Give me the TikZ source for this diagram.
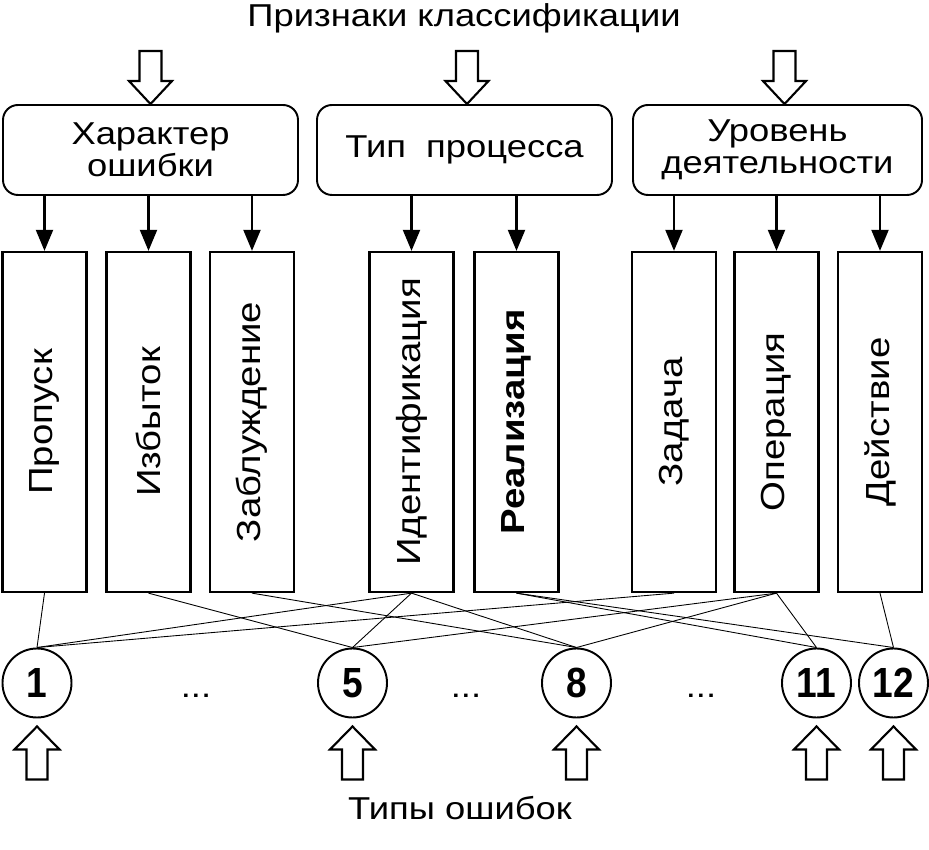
\documentclass[tikz,border=0pt]{standalone}
\usepackage{fontspec}
\setmainfont{Liberation Sans}[FakeStretch=1.15]
\newfontfamily\numfont{Liberation Sans}[FakeStretch=0.88]
\usetikzlibrary{arrows.meta}

\begin{document}
\begin{tikzpicture}[
        priznak/.style={draw, line width=1.1pt, rounded corners=0.3cm, minimum height=1.8cm, align=center, font=\fontsize{18}{18}\selectfont},
        vidbox/.style={draw, line width=1.3pt, minimum width=1.68cm, minimum height=6.8cm},
        vidtext/.style={rotate=90, font=\fontsize{19}{20}\selectfont},
        tipcirc/.style={draw, circle, line width=1.1pt, minimum size=1.38cm, inner sep=0pt, font=\numfont\bfseries\fontsize{24}{26}\selectfont},
        hollow/.style={draw, line width=1.2pt, fill=white, line join=miter},
        svyaz/.style={line width=0.5pt},
        strelka/.style={line width=1.2pt, -{Triangle[width=0.34cm,length=0.42cm]}}
    ]

            \useasboundingbox (0,0) rectangle (18.58,17);

            \node[anchor=base, font=\fontsize{18}{20}\selectfont] (title) at (9.28,16.46) {Признаки классификации};
            \node[anchor=base, font=\fontsize{18}{20}\selectfont] (tipy) at (9.2,0.6) {Типы ошибок};

            % признаки
            \node[priznak, minimum width=5.9cm] (hk) at (3.01,14) {Характер\\ошибки};
            \node[priznak, minimum width=5.9cm] (tp) at (9.29,14) {Тип~~процесса};
            \node[priznak, minimum width=5.78cm] (ud) at (15.55,14) {Уровень\\деятельности};

            \draw[hollow] (hk.north) -- ++(-0.43,0.46) -- ++(0.21,0) -- ++(0,0.6) -- ++(0.44,0) -- ++(0,-0.6) -- ++(0.21,0) -- cycle;
            \draw[hollow] ([xshift=0.05cm]tp.north) -- ++(-0.43,0.46) -- ++(0.21,0) -- ++(0,0.6) -- ++(0.44,0) -- ++(0,-0.6) -- ++(0.21,0) -- cycle;
            \draw[hollow] ([xshift=0.14cm]ud.north) -- ++(-0.43,0.46) -- ++(0.21,0) -- ++(0,0.6) -- ++(0.44,0) -- ++(0,-0.6) -- ++(0.21,0) -- cycle;

            % виды ошибок
            \node[vidbox] (prop) at (0.89,8.56) {};
            \node[vidbox] (izb) at (2.97,8.56) {};
            \node[vidbox] (zabl) at (5.04,8.56) {};
            \node[vidbox] (ident) at (8.23,8.56) {};
            \node[vidbox] (real) at (10.33,8.56) {};
            \node[vidbox] (zad) at (13.48,8.56) {};
            \node[vidbox] (oper) at (15.53,8.56) {};
            \node[vidbox] (deistv) at (17.6,8.56) {};

            \node[vidtext] (propt) at (prop) {Пропуск};
            \node[vidtext] (izbt) at (izb) {Избыток};
            \node[vidtext] (zablt) at (zabl) {Заблуждение};
            \node[vidtext] (identt) at (ident) {Идентификация};
            \node[vidtext, font=\fontsize{19}{20}\selectfont\bfseries] (realt) at (real) {Реализация};
            \node[vidtext] (zadt) at (zad) {Задача};
            \node[vidtext] (opert) at (oper) {Операция};
            \node[vidtext] (deistvt) at (deistv) {Действие};

            \draw[strelka] (hk.south -| prop.north) -- (prop.north);
            \draw[strelka] (hk.south -| izb.north) -- (izb.north);
            \draw[strelka] (hk.south -| zabl.north) -- (zabl.north);
            \draw[strelka] (tp.south -| ident.north) -- (ident.north);
            \draw[strelka] (tp.south -| real.north) -- (real.north);
            \draw[strelka] (ud.south -| zad.north) -- (zad.north);
            \draw[strelka] (ud.south -| oper.north) -- (oper.north);
            \draw[strelka] (ud.south -| deistv.north) -- (deistv.north);

            % типы ошибок
            \node[tipcirc] (c1) at (0.74,3.34) {1};
            \node[tipcirc] (c5) at (7.05,3.34) {5};
            \node[tipcirc] (c8) at (11.53,3.34) {8};
            \node[tipcirc] (c11) at (16.33,3.34) {11};
            \node[tipcirc] (c12) at (17.87,3.34) {12};

            \node[anchor=base, font=\fontsize{18}{20}\selectfont] (dots1) at (3.92,3.04) {...};
            \node[anchor=base, font=\fontsize{18}{20}\selectfont] (dots2) at (9.32,3.04) {...};
            \node[anchor=base, font=\fontsize{18}{20}\selectfont] (dots3) at (14.02,3.04) {...};

            \draw[svyaz] (prop.south) -- (c1.north);
            \draw[svyaz] (ident.south) -- (c1.north);
            \draw[svyaz] (zad.south) -- (c1.north);
            \draw[svyaz] (izb.south) -- (c5.north);
            \draw[svyaz] (ident.south) -- (c5.north);
            \draw[svyaz] (oper.south) -- (c5.north);
            \draw[svyaz] (zabl.south) -- (c8.north);
            \draw[svyaz] (ident.south) -- (c8.north);
            \draw[svyaz] (oper.south) -- (c8.north);
            \draw[svyaz] (real.south) -- (c11.north);
            \draw[svyaz] (oper.south) -- (c11.north);
            \draw[svyaz] (real.south) -- (c12.north);
            \draw[svyaz] (deistv.south) -- (c12.north);

            \draw[hollow] ([yshift=-0.16cm]c1.south) -- ++(-0.45,-0.46) -- ++(0.24,0) -- ++(0,-0.6) -- ++(0.42,0) -- ++(0,0.6) -- ++(0.24,0) -- cycle;
            \draw[hollow] ([yshift=-0.16cm]c5.south) -- ++(-0.45,-0.46) -- ++(0.24,0) -- ++(0,-0.6) -- ++(0.42,0) -- ++(0,0.6) -- ++(0.24,0) -- cycle;
            \draw[hollow] ([yshift=-0.16cm]c8.south) -- ++(-0.45,-0.46) -- ++(0.24,0) -- ++(0,-0.6) -- ++(0.42,0) -- ++(0,0.6) -- ++(0.24,0) -- cycle;
            \draw[hollow] ([yshift=-0.16cm]c11.south) -- ++(-0.45,-0.46) -- ++(0.24,0) -- ++(0,-0.6) -- ++(0.42,0) -- ++(0,0.6) -- ++(0.24,0) -- cycle;
            \draw[hollow] ([yshift=-0.16cm]c12.south) -- ++(-0.45,-0.46) -- ++(0.24,0) -- ++(0,-0.6) -- ++(0.42,0) -- ++(0,0.6) -- ++(0.24,0) -- cycle;

        \end{tikzpicture}
\end{document}
